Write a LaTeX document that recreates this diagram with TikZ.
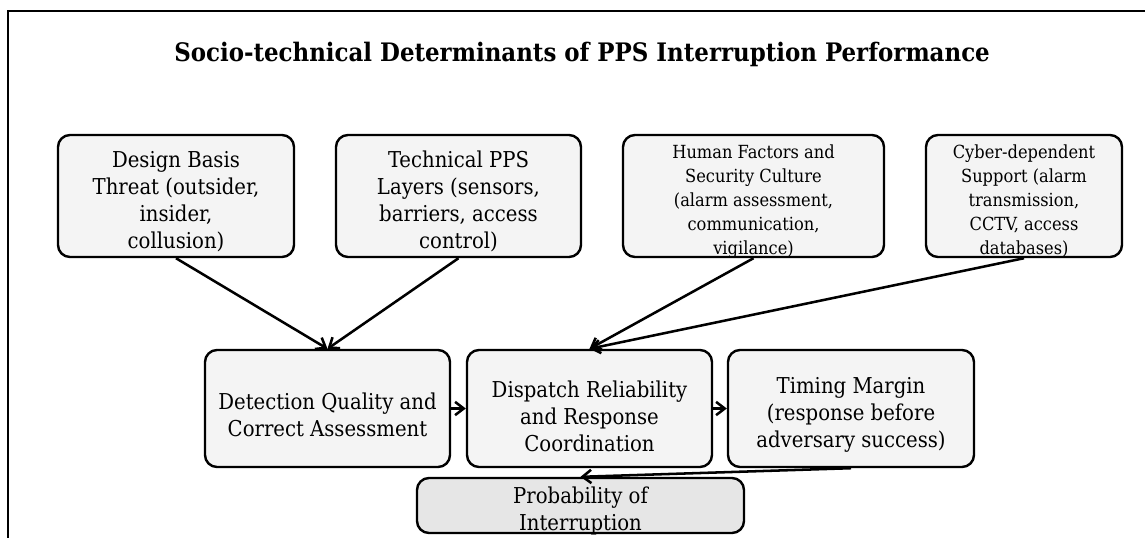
\documentclass[tikz,border=0pt]{standalone}
\usepackage{fontspec}
\setmainfont{DejaVu Serif Condensed}
\usetikzlibrary{arrows.meta}
\definecolor{cardfill}{HTML}{F4F4F4}
\definecolor{resultfill}{HTML}{E6E6E6}
\tikzset{
  card/.style={draw=black, line width=1.8pt, rounded corners=9pt, fill=cardfill, inner sep=0pt},
  result/.style={card, fill=resultfill},
  cardtext/.style={align=center, inner sep=0pt, font=\fontsize{16.4}{20.25}\selectfont},
  smalltext/.style={align=center, inner sep=0pt, font=\fontsize{13.55}{18}\selectfont},
  flow/.style={line width=1.9pt, -{Straight Barb[length=6.5pt,width=10pt,line width=1.9pt]}},
}
\begin{document}
\begin{tikzpicture}[x=0.75pt,y=-0.75pt]
\useasboundingbox (0,0) rectangle (1145,537);
\clip (0,0) rectangle (1145,537);
% outer frame (only its left and top edges fall inside the page)
\draw[line width=1.9pt] (8,560) -- (8,11) -- (1170,11);

\node[font=\fontsize{19.1}{23}\bfseries\selectfont] (title) at (582,54) {Socio-technical Determinants of PPS Interruption Performance};

% upper row: determinants
\node[card, minimum width=236*0.75pt, minimum height=122*0.75pt] (dbt) at (176,196) {};
\node[cardtext] (dbtT) at ([yshift=-4pt]dbt.center) {Design Basis\\Threat (outsider,\\insider,\\collusion)};
\node[card, minimum width=245*0.75pt, minimum height=122*0.75pt] (tech) at (458.5,196) {};
\node[cardtext] (techT) at ([yshift=-4pt]tech.center) {Technical PPS\\Layers (sensors,\\barriers, access\\control)};
\node[card, minimum width=261*0.75pt, minimum height=122*0.75pt] (hf) at (753.5,196) {};
\node[smalltext] (hfT) at ([yshift=-4pt]hf.center) {Human Factors and\\Security Culture\\(alarm assessment,\\communication,\\vigilance)};
\node[card, minimum width=196*0.75pt, minimum height=122*0.75pt] (cyber) at (1024,196) {};
\node[smalltext] (cyberT) at ([yshift=-4pt]cyber.center) {Cyber-dependent\\Support (alarm\\transmission,\\CCTV, access\\databases)};

% middle row: performance elements
\node[card, minimum width=245*0.75pt, minimum height=117*0.75pt] (det) at (327.5,408.5) {};
\node[cardtext] (detT) at ([yshift=-4.5pt]det.center) {Detection Quality and\\Correct Assessment};
\node[card, minimum width=245*0.75pt, minimum height=117*0.75pt] (disp) at (589.5,408.5) {};
\node[cardtext] (dispT) at ([yshift=-6pt]disp.center) {Dispatch Reliability\\and Response\\Coordination};
\node[card, minimum width=246*0.75pt, minimum height=117*0.75pt] (tim) at (851,408.5) {};
\node[cardtext] (timT) at ([yshift=-5pt]tim.center) {Timing Margin\\(response before\\adversary success)};

% outcome
\node[result, minimum width=327*0.75pt, minimum height=55*0.75pt] (pi) at (580.5,505.5) {};
\node[cardtext] (piT) at ([yshift=-4pt]pi.center) {Probability of\\Interruption};

% influences
\draw[flow] (dbt.south) -- (det.north);
\draw[flow] (tech.south) -- (det.north);
\draw[flow] (hf.south) -- (disp.north);
\draw[flow] (cyber.south) -- (disp.north);
\draw[flow] (det.east) -- (disp.west);
\draw[flow] (disp.east) -- (tim.west);
\draw[flow] (tim.south) -- (pi.north);
\end{tikzpicture}
\end{document}
